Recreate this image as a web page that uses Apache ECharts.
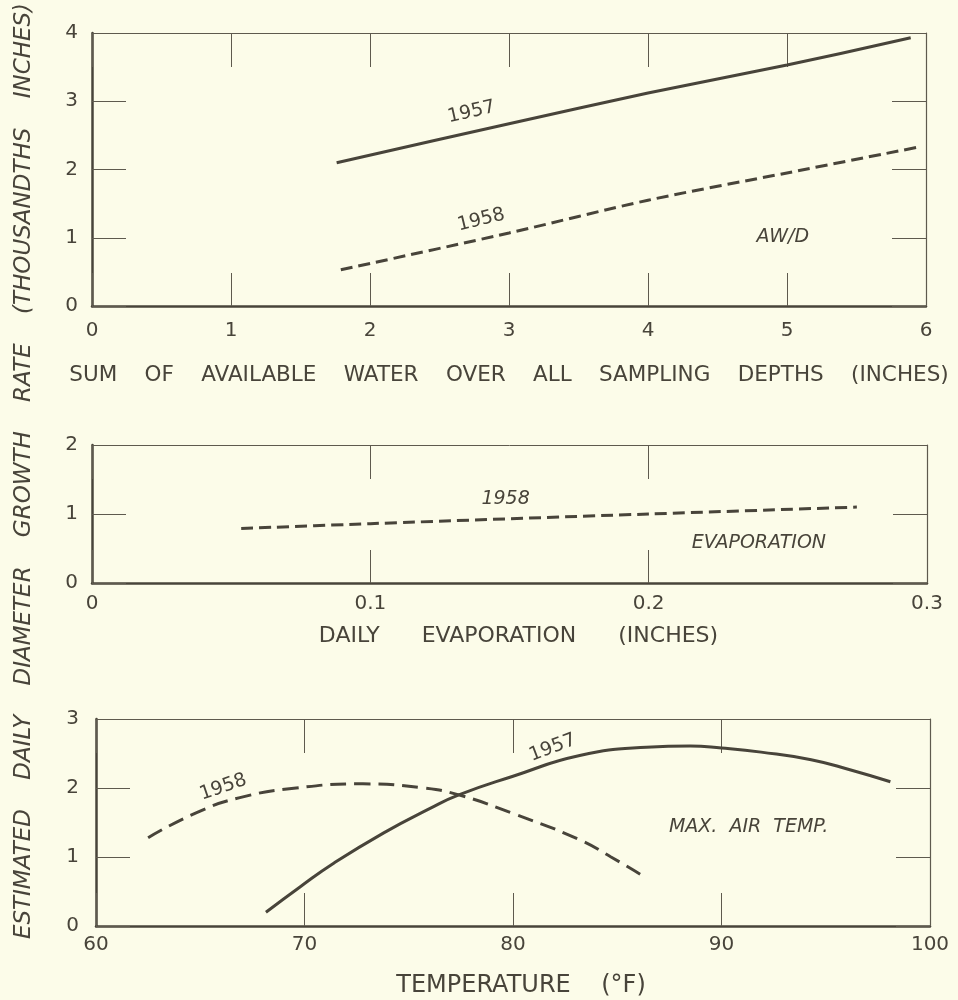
<!DOCTYPE html>
<html><head><meta charset="utf-8">
<script src="https://cdn.jsdelivr.net/npm/echarts@6/dist/echarts.min.js"></script>
<style>html,body{margin:0;padding:0;background:#fcfce9}#c{width:958px;height:1000px}</style>
</head><body><div id="c"></div>
<script>
// Panel 1: available water (AW/D)
const awX1957 = [1.76, 3.0, 4.0, 5.0, 5.89];
const awY1957 = [2.10, 2.67, 3.12, 3.53, 3.93];
const awX1958 = [1.79, 3.0, 4.0, 5.0, 5.95];
const awY1958 = [0.53, 1.07, 1.55, 1.95, 2.33];
// Panel 2: evaporation
const evX1958 = [0.0536, 0.1, 0.2, 0.2748];
const evY1958 = [0.79, 0.86, 1.00, 1.10];
// Panel 3: max air temperature
const tX1957 = [68.15, 69.8, 71.4, 73.8, 76.0, 77.4, 80.0, 83.2, 86.4, 88.5, 90.0, 91.9, 94.3, 96.2, 98.1];
const tY1957 = [0.20, 0.57, 0.91, 1.35, 1.70, 1.90, 2.17, 2.47, 2.59, 2.61, 2.58, 2.52, 2.41, 2.26, 2.09];
const tX1958 = [62.5, 64.8, 66.9, 69.6, 72.8, 75.7, 77.4, 80.0, 83.2, 84.7, 86.1];
const tY1958 = [1.28, 1.64, 1.86, 2.00, 2.06, 2.00, 1.90, 1.63, 1.25, 1.00, 0.75];

const xName1 = 'SUM    OF    AVAILABLE    WATER    OVER    ALL    SAMPLING    DEPTHS    (INCHES)';
const xName2 = 'DAILY      EVAPORATION      (INCHES)';
const xName3 = 'TEMPERATURE    (°F)';
const yName = 'ESTIMATED    DAILY    DIAMETER    GROWTH    RATE    (THOUSANDTHS    INCHES)';

const INK = '#48443a';
const TICK = '#5e5a4e';
const FONT = 'DejaVu Sans';
const zip = (a, b) => a.map((v, i) => [v, b[i]]);

function axesFor(g, xmin, xmax, xint, ymin, ymax, yint, xMargin, yMargin, name, nameGap, nameSize, namePad, fmt) {
  const lbl = {color: INK, fontFamily: FONT, fontSize: 20};
  return {
    x: [
      {gridIndex: g, type: 'value', position: 'bottom', min: xmin, max: xmax, interval: xint,
       axisLine: {show: true, onZero: false, lineStyle: {color: INK, width: 2.5}},
       axisTick: {show: true, inside: true, length: 33, lineStyle: {color: TICK, width: 1}},
       axisLabel: Object.assign({margin: xMargin, formatter: fmt}, lbl),
       splitLine: {show: false},
       name: name, nameLocation: 'middle', nameGap: nameGap,
       nameTextStyle: {color: INK, fontFamily: FONT, fontSize: nameSize, padding: [0, 0, 0, namePad]}},
      {gridIndex: g, type: 'value', position: 'top', min: xmin, max: xmax, interval: xint,
       axisLine: {show: true, onZero: false, lineStyle: {color: TICK, width: 1}},
       axisTick: {show: true, inside: true, length: 34, lineStyle: {color: TICK, width: 1}},
       axisLabel: {show: false}, splitLine: {show: false}}
    ],
    y: [
      {gridIndex: g, type: 'value', position: 'left', min: ymin, max: ymax, interval: yint,
       axisLine: {show: true, onZero: false, lineStyle: {color: INK, width: 2.5}},
       axisTick: {show: true, inside: true, length: 34, lineStyle: {color: TICK, width: 1}},
       axisLabel: Object.assign({margin: yMargin}, lbl), splitLine: {show: false}},
      {gridIndex: g, type: 'value', position: 'right', min: ymin, max: ymax, interval: yint,
       axisLine: {show: true, onZero: false, lineStyle: {color: TICK, width: 1.2}},
       axisTick: {show: true, inside: true, length: 34, lineStyle: {color: TICK, width: 1}},
       axisLabel: {show: false}, splitLine: {show: false}}
    ]
  };
}

const a1 = axesFor(0, 0, 6, 1, 0, 4, 1, 15, 14, xName1, 58, 21.5, 0, v => String(v));
const a2 = axesFor(1, 0, 0.3, 0.1, 0, 2, 1, 11, 14, xName2, 42, 22, 18, v => (v === 0 ? '0' : v.toFixed(1)));
const a3 = axesFor(2, 60, 100, 10, 0, 3, 1, 9, 17, xName3, 48, 24, 16, v => String(v));

const solid = {color: INK, width: 3, type: 'solid'};
const dashed = {color: INK, width: 3, type: [12, 6]};

const option = {
  backgroundColor: '#fcfce9',
  animation: false,
  grid: [
    {left: 92, right: 32, top: 33, height: 273, outerBoundsMode: 'none', containLabel: false},
    {left: 92, right: 31, top: 445, height: 138, outerBoundsMode: 'none', containLabel: false},
    {left: 96, right: 28, top: 719, height: 207, outerBoundsMode: 'none', containLabel: false}
  ],
  xAxis: [].concat(a1.x, a2.x, a3.x),
  yAxis: [].concat(a1.y, a2.y, a3.y),
  series: [
    {type: 'line', xAxisIndex: 0, yAxisIndex: 0, data: zip(awX1957, awY1957), showSymbol: false, lineStyle: solid, smooth: 0.3},
    {type: 'line', xAxisIndex: 0, yAxisIndex: 0, data: zip(awX1958, awY1958), showSymbol: false, lineStyle: dashed, smooth: 0.3},
    {type: 'line', xAxisIndex: 2, yAxisIndex: 2, data: zip(evX1958, evY1958), showSymbol: false, lineStyle: dashed, smooth: 0.3},
    {type: 'line', xAxisIndex: 4, yAxisIndex: 4, data: zip(tX1957, tY1957), showSymbol: false, lineStyle: solid, smooth: 0.5},
    {type: 'line', xAxisIndex: 4, yAxisIndex: 4, data: zip(tX1958, tY1958), showSymbol: false, lineStyle: {color: INK, width: 3, type: [16, 8]}, smooth: 0.5}
  ]
};

const chart = echarts.init(document.getElementById('c'), null, {renderer: 'canvas'});
chart.setOption(option);

// annotations placed in data coordinates
const notes = [
  {g: 0, at: [2.73, 2.84], text: '1957', rot: 0.22, italic: false},
  {g: 0, at: [2.80, 1.26], text: '1958', rot: 0.24, italic: false},
  {g: 0, at: [4.97, 1.01], text: 'AW/D', rot: 0, italic: true},
  {g: 1, at: [0.1486, 1.21], text: '1958', rot: 0, italic: true},
  {g: 1, at: [0.2396, 0.58], text: 'EVAPORATION', rot: 0, italic: true},
  {g: 2, at: [66.1, 2.01], text: '1958', rot: 0.33, italic: false},
  {g: 2, at: [81.9, 2.58], text: '1957', rot: 0.36, italic: false},
  {g: 2, at: [91.3, 1.43], text: 'MAX.  AIR  TEMP.', rot: 0, italic: true}
];
const graphics = notes.map(n => {
  const p = chart.convertToPixel({gridIndex: n.g}, n.at);
  return {type: 'text', x: p[0], y: p[1], rotation: n.rot,
    style: {text: n.text, fill: INK, font: (n.italic ? 'italic ' : '') + '19px "' + FONT + '"',
      textAlign: 'center', textVerticalAlign: 'middle'}};
});
graphics.push({type: 'text', x: 24, y: 471, rotation: Math.PI / 2,
  style: {text: yName, fill: INK, font: 'italic 23px "' + FONT + '"', textAlign: 'center', textVerticalAlign: 'middle'}});
chart.setOption({graphic: graphics});
</script>
</body></html>
